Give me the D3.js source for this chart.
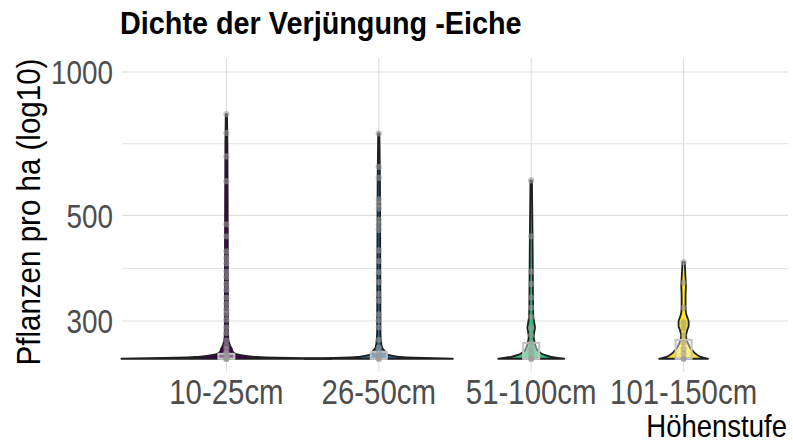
<!DOCTYPE html>
<html>
<head>
<meta charset="utf-8">
<script src="https://cdn.jsdelivr.net/npm/d3@7"></script>
<style>
  body { margin: 0; background: #fff; }
  text { font-family: 'Liberation Sans Narrow', 'Liberation Sans', Arial, sans-serif; }
</style>
</head>
<body>
<div id="chart"></div>
<script>
// categories and colours (viridis)
const categories = ['10-25cm', '26-50cm', '51-100cm', '101-150cm'];
const colors = ['#440154', '#31688E', '#35B779', '#FDE725'];

const yTicks = [300, 500, 1000];
const yMinor = [387, 707];

const pts1 = [816, 745, 665, 590, 479, 452, 420, 407, 396, 381, 371, 359, 349, 336, 326, 317, 311, 302, 291, 283, 273, 266, 262, 258, 256, 253, 250, 250, 250];
const pts2 = [743, 632, 600, 540, 528, 517, 490, 479, 466, 422, 401, 380, 362, 342, 331, 310, 301, 291, 274, 264, 258, 254, 250, 250];
const pts3 = [592, 452, 381, 359, 336, 320, 306, 290, 280, 270, 262, 256, 250, 250];
const pts4 = [399, 361, 320, 298, 290, 280, 270, 262, 256, 250, 250];

// violin outlines: [value, relative width]
const dens1 = [[250, 1.0], [251.2, 0.476], [252.4, 0.267], [253.7, 0.171], [254.9, 0.114], [256.1, 0.086],
  [258.6, 0.062], [262.4, 0.05], [265.0, 0.04], [270.2, 0.026], [275.4, 0.018], [290, 0.015],
  [400, 0.014], [550, 0.012], [700, 0.01], [816, 0.006]];
const dens2 = [[250, 0.705], [251.2, 0.343], [252.4, 0.19], [253.7, 0.124], [254.9, 0.086], [257.4, 0.067],
  [259.9, 0.055], [263.7, 0.032], [268.9, 0.024], [275.4, 0.019], [286.3, 0.016], [400, 0.014],
  [600, 0.011], [743, 0.006]];
const dens3 = [[250, 0.314], [252.4, 0.19], [254.9, 0.124], [257.4, 0.086], [259.9, 0.062], [263.7, 0.048],
  [267.6, 0.038], [272.8, 0.029], [278.1, 0.024], [285.0, 0.030], [290.6, 0.036], [297.7, 0.029],
  [306.5, 0.02], [323.1, 0.018], [365, 0.016], [450, 0.013], [592, 0.007]];
const dens4 = [[250, 0.233], [252.4, 0.162], [256.1, 0.114], [259.9, 0.086], [263.7, 0.062], [268.9, 0.043],
  [274.1, 0.029], [279.5, 0.024], [286.3, 0.033], [293.4, 0.048], [299.1, 0.048], [305.0, 0.036],
  [312.5, 0.022], [323.1, 0.019], [339.2, 0.019], [356.1, 0.022], [373.8, 0.017], [399, 0.011]];

// box statistics
const q1s = [250, 250, 250, 250];
const medians = [250, 250, 250, 250];
const q3s = [256, 258.5, 270, 274];

const points = [pts1, pts2, pts3, pts4];
const dens = [dens1, dens2, dens3, dens4];

const svgWidth = 793;
const svgHeight = 444;
const panel = { left: 122, right: 788, top: 58, bottom: 372 };
const narrow = 0.82; // no narrow font installed, squeeze the regular one

const svg = d3.select('#chart')
  .append('svg')
  .attr('width', svgWidth)
  .attr('height', svgHeight);

const xScale = d3.scalePoint()
  .domain(categories)
  .range([panel.left, panel.right])
  .padding(0.685);

const yScale = d3.scaleLog()
  .domain([234.5, 1070])
  .range([panel.bottom, panel.top]);

const wScale = d3.scaleLinear().domain([0, 1]).range([0, 105]);

// grid
const grid = svg.append('g');
grid.selectAll('.minor').data(yMinor).enter().append('line')
  .attr('x1', panel.left).attr('x2', panel.right)
  .attr('y1', d => yScale(d)).attr('y2', d => yScale(d))
  .attr('stroke', '#e3e3e3').attr('stroke-width', 1);
grid.selectAll('.major').data(yTicks).enter().append('line')
  .attr('x1', panel.left).attr('x2', panel.right)
  .attr('y1', d => yScale(d)).attr('y2', d => yScale(d))
  .attr('stroke', '#dedede').attr('stroke-width', 1.1);
grid.selectAll('.vx').data(categories).enter().append('line')
  .attr('x1', d => xScale(d)).attr('x2', d => xScale(d))
  .attr('y1', panel.top).attr('y2', panel.bottom)
  .attr('stroke', '#dedede').attr('stroke-width', 1.1);

// violins
const violins = svg.append('g');
categories.forEach((c, i) => {
  const cx = xScale(c);
  const area = d3.area()
    .y(d => yScale(d[0]))
    .x0(d => cx - wScale(d[1]))
    .x1(d => cx + wScale(d[1]))
    .curve(d3.curveMonotoneY);
  violins.append('path')
    .datum(dens[i])
    .attr('d', area)
    .attr('fill', colors[i])
    .attr('stroke', '#1f1f1f')
    .attr('stroke-width', 1.8)
    .attr('stroke-linejoin', 'round');
});

// boxes
const boxW = 16;
categories.forEach((c, i) => {
  const cx = xScale(c);
  svg.append('rect')
    .attr('x', cx - boxW / 2)
    .attr('width', boxW)
    .attr('y', yScale(q3s[i]))
    .attr('height', yScale(q1s[i]) - yScale(q3s[i]))
    .attr('fill', '#ffffff').attr('fill-opacity', 0.4)
    .attr('stroke', '#c2c2c2').attr('stroke-width', 2);
  svg.append('line')
    .attr('x1', cx - boxW / 2).attr('x2', cx + boxW / 2)
    .attr('y1', yScale(medians[i])).attr('y2', yScale(medians[i]))
    .attr('stroke', '#c2c2c2').attr('stroke-width', 2);
});

// points
categories.forEach((c, i) => {
  svg.append('g').selectAll('circle')
    .data(points[i]).enter().append('circle')
    .attr('cx', xScale(c))
    .attr('cy', d => yScale(d))
    .attr('r', 3.1)
    .attr('fill', '#9a9a9a')
    .attr('fill-opacity', 0.6);
});

// axis labels
svg.selectAll('.ytick').data(yTicks).enter().append('text')
  .attr('transform', d => `translate(113, ${yScale(d)}) scale(${narrow}, 1)`)
  .attr('dy', '0.36em')
  .attr('text-anchor', 'end')
  .attr('fill', '#4d4d4d')
  .style('font-size', '34px')
  .text(d => d);

svg.selectAll('.xtick').data(categories).enter().append('text')
  .attr('transform', d => `translate(${xScale(d)}, 404) scale(${narrow + 0.02}, 1)`)
  .attr('text-anchor', 'middle')
  .attr('fill', '#4d4d4d')
  .style('font-size', '35px')
  .text(d => d);

svg.append('text')
  .attr('transform', 'translate(787, 437) scale(0.86, 1)')
  .attr('text-anchor', 'end')
  .attr('fill', '#000')
  .style('font-size', '32px')
  .text('Höhenstufe');

svg.append('text')
  .attr('transform', 'translate(40, 212) rotate(-90) scale(0.895, 1)')
  .attr('text-anchor', 'middle')
  .attr('fill', '#000')
  .style('font-size', '33px')
  .text('Pflanzen pro ha (log10)');

svg.append('text')
  .attr('transform', 'translate(120, 34) scale(0.9, 1)')
  .attr('fill', '#000')
  .style('font-size', '32px')
  .style('font-weight', 'bold')
  .text('Dichte der Verjüngung -Eiche');
</script>
</body>
</html>
